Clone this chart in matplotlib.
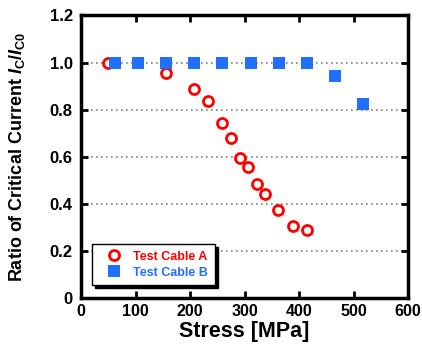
import matplotlib
matplotlib.use("Agg")
import matplotlib.pyplot as plt

plt.rcParams['font.family'] = 'Liberation Sans'
plt.rcParams['font.weight'] = 'bold'
plt.rcParams['mathtext.fontset'] = 'custom'
plt.rcParams['mathtext.rm'] = 'Liberation Sans:bold'
plt.rcParams['mathtext.it'] = 'Liberation Sans:italic:bold'
plt.rcParams['mathtext.bf'] = 'Liberation Sans:bold'

# Test Cable A: critical current ratio vs. applied stress
stress_a = [50, 155, 207, 233, 259, 275, 291, 306, 322, 337, 362, 388, 414]
ratio_a = [1.0, 0.955, 0.886, 0.836, 0.743, 0.682, 0.597, 0.555, 0.485, 0.443, 0.375, 0.307, 0.289]

# Test Cable B
stress_b = [62, 105, 156, 207, 259, 311, 363, 415, 466, 517]
ratio_b = [1.0, 1.0, 1.0, 1.0, 1.0, 1.0, 1.0, 1.0, 0.944, 0.825]

xticks = [0, 100, 200, 300, 400, 500, 600]
yticks = [0, 0.2, 0.4, 0.6, 0.8, 1.0, 1.2]
ytick_labels = ['0', '0.2', '0.4', '0.6', '0.8', '1.0', '1.2']

red = '#ff0000'
blue = '#2070ff'

fig = plt.figure(figsize=(4.22, 3.52), dpi=100)
ax = fig.add_axes([0.192, 0.153, 0.775, 0.803])

ax.plot(stress_a, ratio_a, 'o', mfc='white', mec=red, mew=2, ms=7.2,
        label='Test Cable A', zorder=3)
ax.plot(stress_b, ratio_b, 's', color=blue, ms=8.4, mew=0,
        label='Test Cable B', zorder=4)

ax.set_xlim(0, 600)
ax.set_ylim(0, 1.2)
ax.set_xticks(xticks)
ax.set_yticks(yticks)
ax.set_yticklabels(ytick_labels)

# dotted horizontal grid only
ax.yaxis.grid(True, linestyle=(0, (1, 2)), color='#808080', linewidth=1.2)
ax.set_axisbelow(True)

for s in ax.spines.values():
    s.set_linewidth(2.5)
ax.tick_params(axis='both', direction='in', width=2, length=5,
               top=True, right=True)
ax.tick_params(axis='x', labelsize=11.5, pad=4)
ax.tick_params(axis='y', labelsize=12, pad=6)

ax.set_xlabel('Stress [MPa]', fontsize=15.5, fontweight='bold', labelpad=2)
ax.set_ylabel(r'Ratio of Critical Current $I_{\mathrm{C}}/I_{\mathrm{C0}}$',
              fontsize=13, fontweight='bold')
ax.yaxis.set_label_coords(-0.165, 0.5)

leg = ax.legend(loc='lower left', bbox_to_anchor=(0.033, 0.045), fontsize=9,
                frameon=True, fancybox=False, edgecolor='black',
                shadow={'facecolor': 'black', 'edgecolor': 'black', 'alpha': 1},
                handlelength=2.4, handletextpad=0.35, borderpad=0.55,
                labelspacing=0.3, borderaxespad=0)
leg.get_frame().set_linewidth(1)
for txt, c in zip(leg.get_texts(), [red, blue]):
    txt.set_color(c)
    txt.set_fontweight('bold')

fig.savefig('out.png', dpi=100)
